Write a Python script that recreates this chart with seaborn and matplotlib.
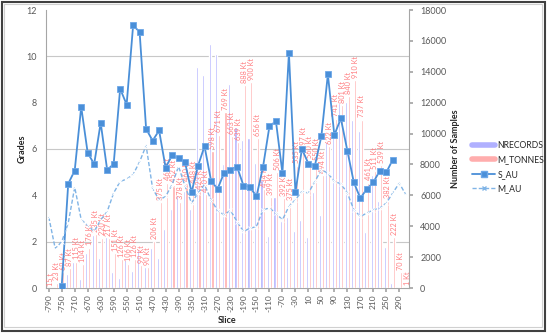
import numpy as np
import pandas as pd
import seaborn as sns
import matplotlib.pyplot as plt
from matplotlib.lines import Line2D
from matplotlib.patches import Rectangle
from matplotlib.ticker import MultipleLocator

sns.set_theme(style="white")
plt.rcParams['font.family'] = ['Lato', 'DejaVu Sans']

# data
slices = list(range(-790, 311, 20))
nrecords = [0, 0, 60, 906, 1705, 583, 2288, 3400, 1921, 3280,
            1014, 669, 1813, 1101, 2503, 1381, 2568, 1964, 3798, 5136,
            6000, 6300, 5100, 14330, 13790, 15800, 15150, 8000, 13190, 10445,
            9583, 9690, 8073, 7000, 3370, 5900, 4400, 4618, 3720, 4402,
            3323, 6215, 4726, 9475, 10000, 12000, 12064, 10878, 10186, 3647,
            7316, 5632, 2633, 302, 0, 0]
m_tonnes_kt = [0.015, 23, 69, 87, 115, 104, 176, 235, 220, 217,
               151, 126, 106, 126, 99, 90, 206, 375, 461, 452,
               378, 460, 448, 423, 410, 598, 671, 769, 663, 639,
               888, 900, 656, 434, 399, 506, 392, 375, 535, 597,
               560, 550, 494, 622, 741, 801, 840, 910, 737, 461,
               511, 539, 382, 222, 70, 1.16]
s_au = [np.nan, np.nan, 0.1, 4.5, 5.07, 7.82, 5.83, 5.35, 7.13, 5.1,
        5.35, 8.6, 7.92, 11.34, 11.05, 6.87, 6.36, 6.8, 5.2, 5.72,
        5.61, 5.42, 4.13, 5.28, 6.12, 4.64, 4.27, 4.96, 5.11, 5.24,
        4.42, 4.36, 3.95, 5.21, 6.98, 7.2, 4.96, 10.15, 4.13, 6.0,
        5.37, 5.28, 6.55, 9.22, 6.6, 7.32, 5.93, 4.56, 3.88, 4.27,
        4.56, 5.06, 4.99, 5.54, np.nan, np.nan]
m_au = [3.07, 1.7, 2.0, 2.8, 4.35, 2.95, 2.7, 2.44, 2.94, 3.3,
        4.1, 4.6, 4.7, 4.9, 5.45, 6.15, 4.3, 3.8, 3.95, 4.46,
        5.25, 4.39, 3.67, 4.1, 4.46, 3.81, 3.35, 3.16, 3.35, 2.87,
        2.44, 2.58, 2.65, 3.38, 3.45, 3.23, 2.94, 3.52, 3.81, 4.17,
        4.1, 4.6, 5.1, 4.96, 4.6, 4.5, 4.1, 3.38, 3.09, 3.23,
        3.38, 3.45, 3.67, 4.1, 4.53, 4.03]

lav = '#B0B0FF'
pink = '#FFADAD'
blue = '#4A8FD8'
light_blue = '#80B4E6'
grey = '#595959'

idx = np.arange(len(slices))
df = pd.DataFrame({'idx': idx, 'S_AU': s_au, 'M_AU': m_au})

fig = plt.figure(figsize=(5.5, 3.33), dpi=100)
ax_n = fig.add_axes([45.5/550, 45/333, 363.5/550, 278/333])
ax_t = ax_n.twinx()
ax_g = ax_n.twinx()

# bars: samples on right axis, tonnes on a hidden axis
ax_n.bar(idx - 0.225, nrecords, width=0.32, color=lav, zorder=2)
ax_t.bar(idx + 0.225, m_tonnes_kt, width=0.32, color=pink)
kt_max = 18000 / 14.8
ax_t.set_ylim(0, kt_max)
ax_t.axis('off')
for i, kt in zip(idx, m_tonnes_kt):
    lab = f"{kt:.0f} Kt" if kt >= 1 else f"{kt*1000:.0f} t"
    ax_t.text(i + 0.225, kt + 10, lab, rotation=90, ha='center', va='bottom',
              fontsize=5.3, color='#FF7F82')

# grade lines
sns.lineplot(data=df, x='idx', y='S_AU', ax=ax_g, color=blue, marker='s',
             markersize=5, markeredgecolor='#6EA8E8', markeredgewidth=0.6,
             linewidth=1.3, legend=False)
sns.lineplot(data=df, x='idx', y='M_AU', ax=ax_g, color=light_blue, marker='x',
             markersize=3.5, markeredgewidth=0.7, linewidth=1.0,
             linestyle=(0, (3, 1.5)), legend=False)

ax_g.set_ylim(0, 12)
ax_g.set_yticks(range(0, 13, 2))
ax_g.yaxis.tick_left()
ax_g.yaxis.set_label_position('left')
ax_g.tick_params(axis='y', length=0, labelsize=6.5, labelcolor=grey, pad=6)
ax_g.set_ylabel('Grades', fontsize=6.5, fontweight='bold', labelpad=0)
ax_g.set_xlabel('')
for s in ax_g.spines.values():
    s.set_visible(False)

ax_n.yaxis.tick_right()
ax_n.yaxis.set_label_position('right')
ax_n.set_ylim(0, 18000)
ax_n.set_yticks(range(0, 18001, 2000))
ax_n.yaxis.set_minor_locator(MultipleLocator(3000))
ax_n.grid(which='minor', axis='y', color='#C8C8C8', lw=0.8)
ax_n.set_axisbelow(True)
ax_n.tick_params(axis='y', which='major', length=3, color='#A6A6A6',
                 labelsize=6.5, labelcolor=grey, pad=5, right=True)
ax_n.tick_params(axis='y', which='minor', length=0)
ax_n.set_ylabel('Number of Samples', fontsize=6.5, fontweight='bold', labelpad=3)

ax_n.set_xlim(-0.5, len(slices) - 0.5)
ax_n.set_xticks(idx[::2])
ax_n.set_xticklabels([str(s) for s in slices[::2]], rotation=90,
                     fontsize=6, color=grey)
ax_n.tick_params(axis='x', length=3, color='#A6A6A6', bottom=True, pad=1.5)
ax_n.set_xlabel('Slice', fontsize=6.5, fontweight='bold', labelpad=3)
ax_n.spines['top'].set_visible(False)
for k in ['left', 'right', 'bottom']:
    ax_n.spines[k].set_color('#A6A6A6')
    ax_n.spines[k].set_linewidth(0.8)

handles = [Line2D([], [], color=lav, lw=4),
           Line2D([], [], color=pink, lw=4),
           Line2D([], [], color=blue, lw=1.3, marker='s', markersize=5,
                  markeredgecolor='#6EA8E8'),
           Line2D([], [], color=light_blue, lw=1.0, linestyle=(0, (3, 1.5)),
                  marker='x', markersize=3.5)]
fig.legend(handles, ['NRECORDS', 'M_TONNES', 'S_AU', 'M_AU'],
           loc='upper left', bbox_to_anchor=(468/550, 1 - 137/333),
           frameon=False, fontsize=6.2, handlelength=2.6, handletextpad=0.35,
           labelspacing=0.6, borderpad=0)

# chart frame
fig.patches.append(Rectangle((2/550, 2/333), 543/550, 329/333, fill=False,
                             edgecolor='#404040', lw=1.5,
                             transform=fig.transFigure))
fig.patches.append(Rectangle((4/550, 6/333), 538/550, 323/333, fill=False,
                             edgecolor='#D0D0D0', lw=0.8,
                             transform=fig.transFigure))

plt.savefig('out.png', dpi=100)
